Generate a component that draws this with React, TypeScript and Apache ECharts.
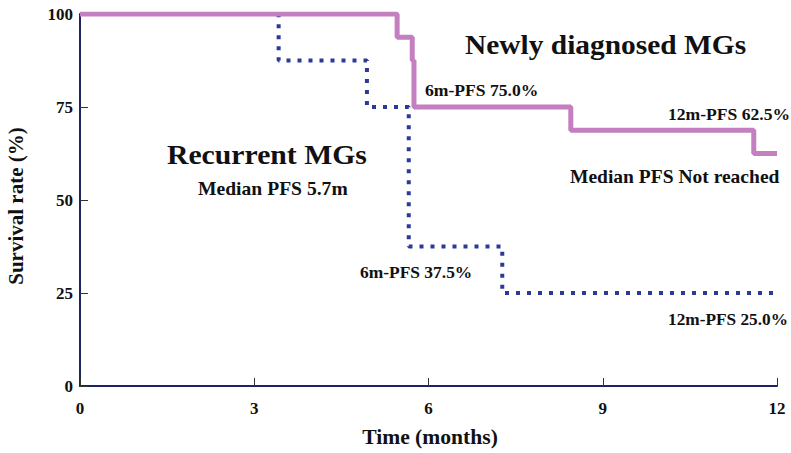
import React, { useEffect, useRef } from "react";
import * as echarts from "echarts";

const xTicks = [0, 3, 6, 9, 12];
const yTicks = [0, 25, 50, 75, 100];
const newlyDiagnosed: [number, number][] = [
  [0, 100],
  [5.46, 93.75],
  [5.72, 87.5],
  [5.75, 75],
  [8.45, 68.75],
  [11.6, 62.5],
  [12, 62.5],
];
const recurrent: [number, number][] = [
  [0, 100],
  [3.42, 87.5],
  [4.94, 75],
  [5.66, 37.5],
  [7.27, 25],
  [12, 25],
];

const FONT = '"Liberation Serif", "Times New Roman", serif';

const annotations = [
  { text: "Newly diagnosed MGs", x: 465, y: 45, size: 27, sx: 1.09 },
  { text: "Recurrent MGs", x: 167, y: 155, size: 27, sx: 1.1 },
  { text: "Median PFS 5.7m", x: 198, y: 189, size: 18, sx: 1.09 },
  { text: "6m-PFS 75.0%", x: 425, y: 91, size: 16, sx: 1.1 },
  { text: "12m-PFS 62.5%", x: 668, y: 115, size: 16, sx: 1.1 },
  { text: "Median PFS Not reached", x: 570, y: 177, size: 18, sx: 1.085 },
  { text: "6m-PFS 37.5%", x: 360, y: 273, size: 16, sx: 1.09 },
  { text: "12m-PFS 25.0%", x: 668, y: 320, size: 16, sx: 1.08 },
];

export default function App() {
  const ref = useRef<HTMLDivElement>(null);
  useEffect(() => {
    if (!ref.current) return;
    const chart = echarts.init(ref.current, undefined, { renderer: "svg" });
    const graphics: any[] = annotations.map((a) => ({
      type: "text",
      x: a.x,
      y: a.y,
      scaleX: a.sx,
      z: 10,
      style: {
        text: a.text,
        font: `bold ${a.size}px ${FONT}`,
        fill: "#111",
        textAlign: "left",
        textVerticalAlign: "middle",
      },
    }));
    graphics.push({
      type: "text",
      x: 430,
      y: 437,
      scaleX: 1.08,
      style: {
        text: "Time (months)",
        font: `bold 20px ${FONT}`,
        fill: "#111",
        textAlign: "center",
        textVerticalAlign: "middle",
      },
    });
    graphics.push({
      type: "text",
      x: 16,
      y: 206,
      rotation: Math.PI / 2,
      style: {
        text: "Survival rate (%)",
        font: `bold 21px ${FONT}`,
        fill: "#111",
        textAlign: "center",
        textVerticalAlign: "middle",
      },
    });
    chart.setOption({
      animation: false,
      grid: { left: 80, right: 14, top: 14, bottom: 67 },
      xAxis: {
        type: "value",
        min: 0,
        max: 12,
        interval: 3,
        axisLine: { show: true, lineStyle: { color: "#1c2560", width: 2 } },
        axisTick: { show: true, inside: true, length: 8, lineStyle: { color: "#333", width: 1 } },
        axisLabel: {
          margin: 14,
          fontFamily: FONT,
          fontWeight: "bold",
          fontSize: 17,
          color: "#111",
          formatter: (v: number) => (xTicks.includes(v) ? String(v) : ""),
        },
        splitLine: { show: false },
      },
      yAxis: {
        type: "value",
        min: 0,
        max: 100,
        interval: 25,
        axisLine: { show: true, lineStyle: { color: "#1c2560", width: 2 } },
        axisTick: { show: true, inside: true, length: 8, lineStyle: { color: "#333", width: 1 } },
        axisLabel: {
          margin: 7,
          fontFamily: FONT,
          fontWeight: "bold",
          fontSize: 17,
          color: "#111",
          formatter: (v: number) => (yTicks.includes(v) ? String(v) : ""),
        },
        splitLine: { show: false },
      },
      graphic: graphics,
      series: [
        {
          name: "Recurrent MGs",
          type: "line",
          step: "end",
          data: recurrent,
          showSymbol: false,
          z: 2,
          lineStyle: { color: "#2b3a99", width: 4, type: [4, 7], cap: "butt" },
        },
        {
          name: "Newly diagnosed MGs",
          type: "line",
          step: "end",
          data: newlyDiagnosed,
          showSymbol: false,
          z: 3,
          lineStyle: { color: "#c47fc0", width: 5 },
        },
      ],
    });
    return () => chart.dispose();
  }, []);
  return (
    <div
      ref={ref}
      style={{ position: "fixed", left: 0, top: 0, width: 791, height: 453, background: "#fff" }}
    />
  );
}
